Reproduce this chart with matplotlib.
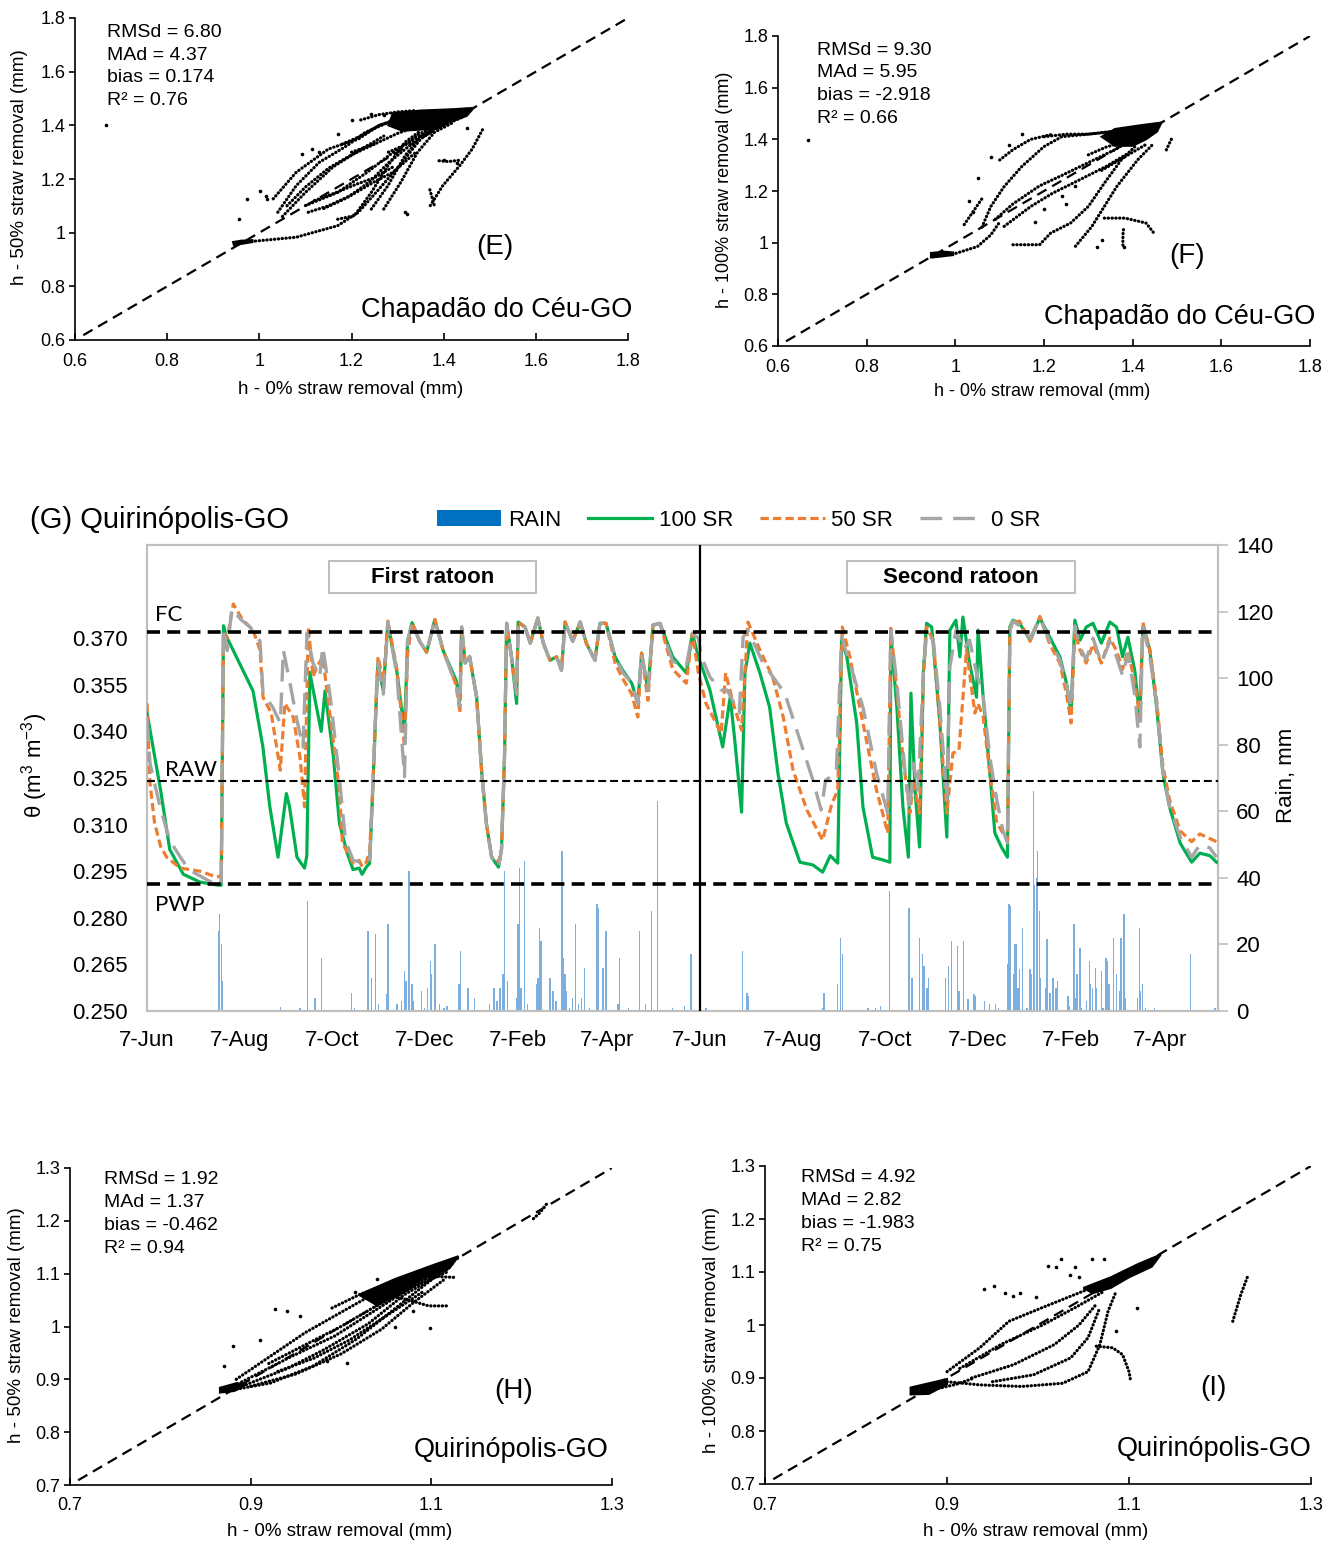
import matplotlib
matplotlib.use('Agg')
import matplotlib.pyplot as plt
import matplotlib.dates as mdates
from matplotlib.lines import Line2D
from matplotlib.patches import Patch, Rectangle, Polygon
import numpy as np
import pandas as pd

plt.rcParams['font.family'] = ['Liberation Sans', 'DejaVu Sans']
plt.rcParams['mathtext.fontset'] = 'custom'
plt.rcParams['mathtext.rm'] = 'Liberation Sans'
plt.rcParams['mathtext.it'] = 'Liberation Sans:italic'

# ---------------------------------------------------------------- data: panel G
start_date = '2017-06-07'
end_day = 707
tick_dates = ['2017-06-07', '2017-08-07', '2017-10-07', '2017-12-07', '2018-02-07', '2018-04-07',
              '2018-06-07', '2018-08-07', '2018-10-07', '2018-12-07', '2019-02-07', '2019-04-07']
tick_labels = ['7-Jun', '7-Aug', '7-Oct', '7-Dec', '7-Feb', '7-Apr',
               '7-Jun', '7-Aug', '7-Oct', '7-Dec', '7-Feb', '7-Apr']
ratoon_split = '2018-06-07'
FC, RAW, PWP = 0.372, 0.324, 0.291

sr100_day = [0, 9, 15, 24, 35, 47, 49, 50.5, 52, 61, 70, 76.5, 81, 86.5, 92, 94, 99, 104, 105.5, 107.5,
             111, 115, 117.5, 123, 127, 132, 136, 140, 142, 145, 147, 149, 151.6, 152.5, 156, 159, 165,
             170, 172, 175, 180, 184.6, 190, 195.5, 204, 206.6, 207.7, 210, 213, 217.6, 221, 224, 227.5,
             232, 234, 236, 237.4, 240.6, 244, 245, 249.5, 253, 258, 261.6, 266, 270.4, 273.6, 276, 281,
             286, 290, 295.7, 299, 303, 309, 314, 320, 324, 326.5, 330.7, 334, 338.6, 347, 356, 360, 364,
             371.6, 380, 385, 388, 392.5, 394.7, 398, 404.6, 411, 416.5, 422, 431, 439.6, 446, 451, 456,
             458.5, 462, 468.5, 472.6, 479, 486, 490.4, 491, 495, 499, 502.6, 504.3, 507, 510, 512.5,
             514.6, 518, 523.4, 528, 530, 534, 536.6, 538.6, 543, 547.6, 548.6, 552, 556.4, 559.7, 564,
             568, 569.6, 571.6, 576, 583, 589.4, 596, 602.6, 607, 610, 612.5, 616, 620, 624.5, 630,
             635.6, 640, 644, 647.5, 652, 655.4, 657.4, 662, 666.5, 670.6, 675, 682, 689.6, 695, 701.6, 706]
sr100_theta = [0.346, 0.321, 0.302, 0.294, 0.2915, 0.2905, 0.2905, 0.374, 0.371, 0.362, 0.353, 0.335,
               0.316, 0.2995, 0.320, 0.316, 0.2995, 0.296, 0.300, 0.359, 0.350, 0.340, 0.353, 0.332,
               0.3105, 0.301, 0.2955, 0.296, 0.294, 0.2965, 0.2975, 0.321, 0.353, 0.362, 0.353, 0.375,
               0.359, 0.340, 0.369, 0.375, 0.369, 0.3655, 0.376, 0.366, 0.3565, 0.350, 0.3736, 0.362,
               0.364, 0.351, 0.3266, 0.3105, 0.2995, 0.2963, 0.3018, 0.3317, 0.3748, 0.364, 0.349,
               0.3752, 0.3736, 0.3684, 0.3765, 0.3684, 0.3629, 0.364, 0.3597, 0.3752, 0.369, 0.3752,
               0.3684, 0.3629, 0.3748, 0.3748, 0.364, 0.3597, 0.3555, 0.349, 0.3652, 0.3533, 0.3742,
               0.3748, 0.364, 0.3588, 0.3716, 0.364, 0.3533, 0.335, 0.351, 0.3372, 0.314, 0.3588,
               0.3684, 0.3588, 0.3478, 0.3266, 0.3105, 0.2979, 0.297, 0.2947, 0.300, 0.2976, 0.3694,
               0.364, 0.3427, 0.3157, 0.2995, 0.2986, 0.2979, 0.3716, 0.3478, 0.3157, 0.2995, 0.3523,
               0.3211, 0.3028, 0.3588, 0.3748, 0.3736, 0.3427, 0.306, 0.3726, 0.3758, 0.364, 0.3768,
               0.362, 0.351, 0.3726, 0.351, 0.3266, 0.3073, 0.3028, 0.2995, 0.3736, 0.3758, 0.3748,
               0.3694, 0.3765, 0.3703, 0.364, 0.3555, 0.3459, 0.3758, 0.3694, 0.3736, 0.3748, 0.3684,
               0.3752, 0.3736, 0.364, 0.3703, 0.3597, 0.3446, 0.3736, 0.3662, 0.3478, 0.3266, 0.3157,
               0.3041, 0.2979, 0.3008, 0.300, 0.2979]

sr50_day = [0, 2, 5, 9, 13, 22, 35, 46, 49, 50.5, 53, 57, 63, 70, 74.6, 76.6, 82, 88, 91, 96.5, 101, 104,
            106.5, 109.6, 112, 116, 121, 127, 129, 136, 140, 142, 145, 147, 149, 151.6, 152.5, 156, 159,
            165, 170, 172, 175, 180, 184.6, 190, 195.5, 204, 206.6, 207.7, 210, 213, 217.6, 221, 224,
            227.5, 232, 234, 236, 237.4, 240.6, 244, 245, 249.5, 253, 258, 261.6, 266, 270.4, 273.6, 276,
            281, 286, 290, 295.7, 299, 303, 309, 314, 320, 324, 326.5, 330.7, 334, 338.6, 347, 356, 360,
            364, 369, 379, 382, 387, 392.5, 396.7, 404.6, 413, 420, 426.5, 435.6, 446, 452, 456, 459,
            464, 472.6, 481.6, 489, 491, 495, 499, 503.6, 506, 510, 512.5, 514.6, 519, 523.4, 528, 532,
            536, 539, 541, 543, 546.5, 548.6, 552, 556.4, 561, 565, 568, 569.6, 571.6, 576, 583, 589.4,
            596, 602.6, 607, 610, 612.5, 616, 620, 624.5, 630, 635.6, 640, 644, 647.5, 652, 655.4, 657.4,
            662, 666.5, 670.6, 675, 682, 689.6, 695, 701.6, 706]
sr50_theta = [0.349, 0.3233, 0.3105, 0.303, 0.2995, 0.296, 0.295, 0.2931, 0.2935, 0.372, 0.370, 0.381,
              0.376, 0.3726, 0.3662, 0.351, 0.3459, 0.3275, 0.349, 0.3446, 0.3317, 0.3157, 0.3736,
              0.3575, 0.3607, 0.364, 0.3446, 0.3211, 0.3041, 0.2976, 0.2985, 0.2965, 0.298, 0.3018,
              0.321, 0.355, 0.364, 0.356, 0.3755, 0.360, 0.335, 0.365, 0.375, 0.369, 0.3655, 0.376,
              0.366, 0.355, 0.346, 0.3736, 0.362, 0.364, 0.351, 0.3266, 0.3105, 0.2995, 0.298, 0.3018,
              0.3317, 0.3748, 0.364, 0.352, 0.3752, 0.3736, 0.3684, 0.3765, 0.3684, 0.3629, 0.364,
              0.3597, 0.3752, 0.369, 0.3752, 0.3684, 0.3629, 0.3748, 0.3748, 0.362, 0.357, 0.352,
              0.3446, 0.3652, 0.350, 0.3742, 0.3748, 0.360, 0.3555, 0.3716, 0.3588, 0.349, 0.3394,
              0.3588, 0.349, 0.3404, 0.3752, 0.3662, 0.3575, 0.3446, 0.3275, 0.3147, 0.305, 0.3166,
              0.3211, 0.3736, 0.364, 0.3427, 0.3211, 0.3073, 0.3732, 0.3533, 0.3317, 0.3137, 0.324,
              0.3137, 0.3575, 0.3736, 0.3694, 0.3427, 0.3137, 0.333, 0.334, 0.3533, 0.3662, 0.3588,
              0.3459, 0.349, 0.3446, 0.3266, 0.3105, 0.3073, 0.305, 0.3726, 0.375, 0.3755, 0.369,
              0.377, 0.368, 0.362, 0.352, 0.3427, 0.372, 0.366, 0.362, 0.368, 0.362, 0.370, 0.366,
              0.360, 0.366, 0.356, 0.3446, 0.3752, 0.3662, 0.350, 0.329, 0.318, 0.308, 0.3045, 0.307,
              0.3055, 0.3045]

sr0_day = [0, 2, 8.6, 15, 22, 28, 40, 47, 49, 50.5, 53, 56, 62, 68, 74.6, 76.6, 83, 88, 90, 94, 99, 103,
           105.6, 109.6, 114, 116, 121, 127, 131, 136, 140, 145, 147, 149, 151.6, 152.5, 156, 159, 165,
           170, 172, 175, 180, 184.6, 190, 195.5, 204, 206.6, 207.7, 210, 213, 217.6, 221, 224, 227.5,
           232, 234, 236, 237.4, 240.6, 244, 245, 249.5, 253, 258, 261.6, 266, 270.4, 273.6, 276, 281,
           286, 290, 295.7, 299, 303, 309, 314, 320, 324, 326.5, 330.7, 334, 338.6, 347, 356, 360, 364,
           366, 371.6, 379, 383, 391, 393.5, 396.7, 406.6, 421, 431, 439.6, 445, 448, 455, 458.5, 464,
           472.6, 481.6, 489, 491, 495, 500.5, 503.6, 506, 509, 512.5, 514.6, 519, 523.4, 528, 530, 534,
           539, 543, 547.6, 552, 556.4, 561, 565, 568, 569.6, 571.6, 576, 583, 589.4, 596, 602.6, 607,
           610, 612.5, 616, 620, 624.5, 630, 635.6, 640, 644, 647.5, 652, 655.4, 657.4, 662, 666.5,
           670.6, 675, 682, 689.6, 695, 701.6, 706]
sr0_theta = [0.344, 0.3297, 0.3157, 0.305, 0.2995, 0.2954, 0.2921, 0.2905, 0.291, 0.373, 0.366, 0.3795,
             0.376, 0.3736, 0.369, 0.3523, 0.3478, 0.3427, 0.3662, 0.3565, 0.3436, 0.3349, 0.3716,
             0.362, 0.3575, 0.3673, 0.351, 0.325, 0.305, 0.2985, 0.298, 0.2975, 0.2985, 0.322, 0.353,
             0.362, 0.352, 0.3752, 0.358, 0.3254, 0.369, 0.3752, 0.369, 0.3655, 0.376, 0.366, 0.355,
             0.348, 0.3736, 0.362, 0.364, 0.351, 0.3266, 0.3105, 0.2995, 0.2963, 0.3018, 0.3317,
             0.3748, 0.364, 0.352, 0.3752, 0.3736, 0.3684, 0.3765, 0.3684, 0.3629, 0.364, 0.3597,
             0.3752, 0.369, 0.3752, 0.3684, 0.3629, 0.3748, 0.3748, 0.364, 0.359, 0.3555, 0.349,
             0.3652, 0.3533, 0.3742, 0.3748, 0.3625, 0.361, 0.3716, 0.370, 0.364, 0.3575, 0.3533,
             0.3533, 0.3459, 0.3703, 0.3726, 0.362, 0.3523, 0.3372, 0.3243, 0.3147, 0.3243, 0.3266,
             0.3703, 0.362, 0.3478, 0.3266, 0.3137, 0.3726, 0.3555, 0.3266, 0.3147, 0.3297, 0.3211,
             0.3588, 0.3716, 0.3694, 0.3478, 0.3179, 0.3607, 0.3726, 0.3662, 0.3694, 0.3588, 0.351,
             0.3317, 0.3179, 0.3082, 0.3041, 0.3726, 0.3755, 0.374, 0.370, 0.3765, 0.369, 0.363,
             0.355, 0.3478, 0.374, 0.367, 0.363, 0.370, 0.362, 0.369, 0.364, 0.358, 0.365, 0.352,
             0.335, 0.3742, 0.364, 0.349, 0.327, 0.316, 0.306, 0.2995, 0.3035, 0.3025, 0.2995]

rain_day = [47, 48, 49, 50, 88, 101, 106, 111, 115, 135, 137, 146, 148, 151, 153, 158, 159, 165, 168, 170,
            171, 173, 175, 176, 181, 183, 185, 187, 188, 190, 193, 196, 198, 206, 207, 212, 216, 226, 229,
            231, 233, 235, 236, 238, 244, 245, 246, 247, 249, 251, 257, 258, 259, 260, 266, 268, 270, 274,
            275, 276, 277, 279, 281, 283, 285, 287, 289, 292, 297, 298, 301, 303, 311, 312, 318, 325, 329,
            333, 337, 347, 355, 359, 369, 393, 396, 397, 446, 447, 456, 458, 459, 476, 481, 484, 490, 503,
            505, 510, 512, 513, 515, 516, 527, 529, 531, 535, 536, 539, 542, 546, 547, 553, 556, 560, 562,
            568, 569, 570, 572, 573, 574, 575, 576, 578, 581, 583, 584, 585, 586, 587, 588, 589, 590, 593,
            594, 596, 598, 600, 601, 608, 609, 612, 613, 614, 616, 617, 620, 622, 623, 624, 626, 627, 630,
            631, 633, 634, 635, 638, 640, 642, 643, 645, 646, 654, 655, 656, 657, 659, 665, 689, 705, 707]
rain_mm = [24, 29, 20, 9, 1.2, 1, 33, 4, 16, 5.4, 1, 24, 10, 23, 2, 5, 26, 2, 3, 12, 9, 42, 8, 3, 6, 1, 7,
           15, 11, 20, 2, 1, 1.5, 8, 18, 7, 4, 2, 7, 3, 7, 11, 42, 9, 4, 26, 43, 7, 45, 2, 8, 10, 25, 21,
           10, 6, 3, 48, 16, 11, 6, 1, 4, 26, 2, 4, 13, 1, 32, 31, 13, 24, 2, 16, 1, 24, 2, 30, 63, 1,
           1.5, 17, 1, 18, 5.5, 4.5, 1, 5.5, 8, 22, 17, 1, 1, 1.5, 36, 31, 10, 22, 17, 13.5, 7, 10, 10,
           13.5, 21, 19.5, 6, 21, 3.6, 5, 4.6, 3, 2, 2, 1, 14, 32, 31.5, 11, 20, 20, 7, 12.6, 25, 1,
           12.6, 11, 66, 38, 40, 48, 30, 10, 7, 21.5, 5.5, 10, 7, 9, 4.6, 1.5, 26, 4, 11, 19, 1, 3, 15,
           8, 7, 13, 7, 12, 1, 16, 15, 8, 22, 11, 6, 22, 29, 4, 4, 25, 6, 8, 1, 1, 17, 1, 1.5]

# ---------------------------------------------------------------- data: scatter panels
E_stats = ['RMSd = 6.80', 'MAd = 4.37', 'bias = 0.174', 'R² = 0.76']
F_stats = ['RMSd = 9.30', 'MAd = 5.95', 'bias = -2.918', 'R² = 0.66']
H_stats = ['RMSd = 1.92', 'MAd = 1.37', 'bias = -0.462', 'R² = 0.94']
I_stats = ['RMSd = 4.92', 'MAd = 2.82', 'bias = -1.983', 'R² = 0.75']
EF_ticks = [0.6, 0.8, 1.0, 1.2, 1.4, 1.6, 1.8]
EF_ticklabels = ['0.6', '0.8', '1', '1.2', '1.4', '1.6', '1.8']
HI_xticks = [0.7, 0.9, 1.1, 1.3]
HI_xticklabels = ['0.7', '0.9', '1.1', '1.3']
HI_yticks = [0.7, 0.8, 0.9, 1.0, 1.1, 1.2, 1.3]
HI_yticklabels = ['0.7', '0.8', '0.9', '1', '1.1', '1.2', '1.3']

E_curves = [
    ([0.95, 1.0, 1.08, 1.17, 1.215, 1.26, 1.31, 1.35, 1.40, 1.445],
     [0.962, 0.970, 0.983, 1.026, 1.076, 1.163, 1.262, 1.349, 1.411, 1.442]),
    ([1.04, 1.08, 1.13, 1.19, 1.23, 1.28, 1.32], [1.076, 1.175, 1.262, 1.324, 1.374, 1.411, 1.43]),
    ([1.03, 1.08, 1.15, 1.215, 1.26, 1.31], [1.126, 1.225, 1.312, 1.349, 1.40, 1.43]),
    ([1.05, 1.10, 1.16, 1.22, 1.27], [1.06, 1.15, 1.245, 1.31, 1.36]),
    ([1.10, 1.17, 1.234, 1.29, 1.35, 1.40], [1.101, 1.150, 1.225, 1.299, 1.37, 1.41]),
    ([1.106, 1.15, 1.20, 1.25, 1.29, 1.34], [1.076, 1.10, 1.14, 1.19, 1.225, 1.30]),
    ([1.12, 1.16, 1.21, 1.25, 1.29], [1.12, 1.145, 1.18, 1.205, 1.245]),
    ([1.17, 1.206, 1.243, 1.279, 1.316, 1.35], [1.05, 1.063, 1.150, 1.250, 1.337, 1.38]),
    ([1.243, 1.279, 1.316, 1.352, 1.39], [1.088, 1.175, 1.287, 1.361, 1.40]),
    ([1.27, 1.307, 1.343, 1.38, 1.42], [1.088, 1.188, 1.299, 1.374, 1.41]),
    ([1.371, 1.398, 1.435, 1.462, 1.485], [1.101, 1.175, 1.250, 1.312, 1.386]),
    ([1.37, 1.375, 1.38], [1.16, 1.13, 1.10]),
    ([1.39, 1.41, 1.435], [1.268, 1.265, 1.27]),
    ([1.18, 1.22, 1.26, 1.30, 1.35, 1.40, 1.45], [1.33, 1.36, 1.40, 1.42, 1.44, 1.45, 1.46]),
    ([1.20, 1.25, 1.30, 1.35, 1.40, 1.45], [1.30, 1.33, 1.37, 1.40, 1.42, 1.44]),
    ([1.28, 1.32, 1.36, 1.40, 1.44], [1.30, 1.33, 1.37, 1.40, 1.43]),
    ([1.22, 1.26, 1.30, 1.34], [1.42, 1.44, 1.45, 1.455]),
    ([1.06, 1.10, 1.15, 1.20, 1.25], [1.10, 1.17, 1.24, 1.29, 1.33]),
    ([1.14, 1.19, 1.24, 1.28, 1.33], [1.09, 1.13, 1.19, 1.26, 1.33]),
]
E_pts_x = [0.668, 0.955, 0.973, 1.001, 1.015, 1.016, 1.092, 1.115, 1.17, 1.243, 1.316, 1.32, 1.27, 1.20,
           1.13, 1.45, 1.40, 1.43]
E_pts_y = [1.401, 1.05, 1.126, 1.157, 1.138, 1.125, 1.293, 1.312, 1.368, 1.442, 1.076, 1.07, 1.44, 1.42,
           1.30, 1.39, 1.27, 1.26]
E_blobs = [
    [(1.28, 1.40), (1.29, 1.445), (1.35, 1.455), (1.42, 1.46), (1.465, 1.465), (1.45, 1.435),
     (1.41, 1.41), (1.36, 1.385), (1.31, 1.38)],
    [(0.945, 0.953), (0.943, 0.965), (0.96, 0.97), (0.985, 0.972), (0.985, 0.965), (0.96, 0.958)],
]

F_curves = [
    ([0.95, 1.0, 1.05, 1.08, 1.10], [0.945, 0.958, 0.985, 1.03, 1.08]),
    ([1.06, 1.08, 1.11, 1.15, 1.20, 1.24, 1.30, 1.36], [1.06, 1.14, 1.217, 1.295, 1.372, 1.41, 1.42, 1.43]),
    ([1.09, 1.13, 1.19, 1.24, 1.30, 1.36, 1.41, 1.46], [1.09, 1.15, 1.22, 1.26, 1.31, 1.36, 1.41, 1.45]),
    ([1.11, 1.17, 1.22, 1.28, 1.34, 1.39], [1.063, 1.14, 1.192, 1.243, 1.295, 1.346]),
    ([1.13, 1.19, 1.215, 1.26, 1.30, 1.336, 1.374, 1.41], [0.992, 0.992, 1.037, 1.076, 1.14, 1.23, 1.32, 1.38]),
    ([1.271, 1.308, 1.336, 1.364, 1.411, 1.448], [0.986, 1.063, 1.14, 1.217, 1.32, 1.385]),
    ([1.336, 1.383, 1.43, 1.448], [1.095, 1.095, 1.076, 1.037]),
    ([1.378, 1.378, 1.38], [0.99, 1.03, 1.06]),
    ([1.476, 1.483, 1.49], [1.359, 1.385, 1.41]),
    ([1.10, 1.13, 1.17, 1.22], [1.32, 1.36, 1.40, 1.42]),
    ([1.02, 1.04, 1.06], [1.07, 1.12, 1.17]),
    ([1.20, 1.25, 1.30, 1.35, 1.40, 1.45], [1.41, 1.42, 1.42, 1.43, 1.44, 1.45]),
    ([1.30, 1.34, 1.38, 1.42, 1.45], [1.34, 1.37, 1.39, 1.41, 1.43]),
    ([1.33, 1.36, 1.40, 1.43], [1.28, 1.31, 1.35, 1.38]),
]
F_pts_x = [0.667, 1.15, 1.12, 1.08, 1.05, 1.03, 1.04, 1.32, 1.33, 1.38, 1.27, 1.24, 1.25, 1.20, 1.18]
F_pts_y = [1.397, 1.42, 1.38, 1.33, 1.25, 1.16, 1.12, 0.985, 1.01, 0.985, 1.22, 1.18, 1.15, 1.13, 1.08]
F_blobs = [
    [(1.33, 1.41), (1.36, 1.44), (1.42, 1.455), (1.465, 1.465), (1.455, 1.43), (1.43, 1.40),
     (1.40, 1.375), (1.36, 1.375)],
    [(0.945, 0.943), (0.945, 0.96), (0.975, 0.965), (0.995, 0.962), (0.995, 0.952), (0.97, 0.947)],
]

H_curves = [
    ([0.88, 0.922, 0.969, 1.017, 1.054, 1.087, 1.125], [0.88, 0.893, 0.925, 0.976, 1.026, 1.071, 1.121]),
    ([0.884, 0.922, 0.96, 0.993, 1.026, 1.064, 1.111, 1.13], [0.9, 0.944, 0.988, 1.02, 1.052, 1.077, 1.109, 1.13]),
    ([0.89, 0.946, 0.993, 1.04, 1.087, 1.12], [0.895, 0.944, 0.982, 1.033, 1.084, 1.11]),
    ([0.895, 0.94, 0.98, 1.03, 1.07, 1.11], [0.89, 0.92, 0.955, 1.005, 1.06, 1.1]),
    ([0.90, 0.95, 1.00, 1.045, 1.08, 1.115], [0.887, 0.91, 0.948, 0.995, 1.045, 1.09]),
    ([0.99, 1.02, 1.05, 1.08, 1.11], [1.035, 1.06, 1.08, 1.10, 1.12]),
    ([0.92, 0.96, 1.0, 1.04, 1.08, 1.12], [0.93, 0.965, 1.0, 1.04, 1.075, 1.105]),
    ([0.93, 0.97, 1.01, 1.05, 1.09], [0.915, 0.94, 0.975, 1.02, 1.065]),
    ([1.054, 1.087, 1.125], [1.077, 1.096, 1.093]),
    ([1.05, 1.075, 1.097, 1.12], [1.06, 1.05, 1.039, 1.039]),
    ([1.213, 1.22, 1.229], [1.204, 1.215, 1.235]),
]
H_pts_x = [0.88, 0.87, 0.91, 0.927, 0.94, 0.955, 1.015, 1.007, 1.099, 1.04, 0.985, 1.06, 1.08]
H_pts_y = [0.963, 0.925, 0.975, 1.033, 1.03, 1.02, 1.065, 0.931, 0.998, 1.09, 0.935, 1.0, 1.03]
H_blobs = [
    [(1.02, 1.06), (1.06, 1.09), (1.10, 1.115), (1.13, 1.133), (1.12, 1.11), (1.09, 1.09),
     (1.06, 1.06), (1.04, 1.04)],
    [(0.866, 0.875), (0.866, 0.884), (0.885, 0.893), (0.895, 0.89), (0.882, 0.878)],
]

I_curves = [
    ([0.90, 0.936, 0.982, 1.027, 1.055, 1.068, 1.077, 1.086], [0.893, 0.887, 0.884, 0.89, 0.912, 0.963, 1.026, 1.064]),
    ([0.90, 0.936, 0.968, 1.005, 1.05, 1.095, 1.132], [0.912, 0.957, 1.007, 1.033, 1.064, 1.096, 1.128]),
    ([0.914, 0.959, 1.005, 1.041, 1.073], [0.918, 0.963, 1.0, 1.033, 1.064]),
    ([0.927, 0.973, 1.018, 1.045, 1.064], [0.90, 0.925, 0.963, 1.0, 1.039]),
    ([0.95, 0.995, 1.036, 1.055, 1.068], [0.893, 0.906, 0.938, 0.976, 1.033]),
    ([1.064, 1.082, 1.093, 1.10, 1.102], [0.96, 0.957, 0.944, 0.912, 0.893]),
    ([1.214, 1.223, 1.23], [1.007, 1.058, 1.09]),
    ([0.87, 0.89, 0.91, 0.93], [0.872, 0.88, 0.888, 0.90]),
]
I_pts_x = [0.941, 0.952, 0.964, 0.972, 0.998, 1.011, 1.025, 1.041, 1.059, 1.073, 1.086, 1.109, 1.02,
           1.035, 1.045, 0.98]
I_pts_y = [1.067, 1.074, 1.061, 1.055, 1.052, 1.112, 1.124, 1.109, 1.124, 1.124, 0.988, 1.033, 1.11,
           1.095, 1.09, 1.06]
I_blobs = [
    [(1.05, 1.07), (1.08, 1.09), (1.11, 1.115), (1.135, 1.133), (1.125, 1.11), (1.10, 1.09),
     (1.08, 1.07), (1.06, 1.06)],
    [(0.86, 0.869), (0.86, 0.882), (0.88, 0.89), (0.9, 0.898), (0.9, 0.888), (0.88, 0.87)],
]

# ---------------------------------------------------------------- figure
W, H = 1338, 1543
fig = plt.figure(figsize=(W / 100, H / 100), dpi=100)
fig.patch.set_facecolor('white')


def px_rect(x0, y0, x1, y1):
    return [x0 / W, 1 - y1 / H, (x1 - x0) / W, (y1 - y0) / H]


def scatter_panel(rect, lim, xt, xtl, yt, ytl, xlabel, ylabel, stats, site, tag, curves, ptsx, ptsy,
                  blobs, stats_xy, site_xy, tag_xy, ylab_xy, xlab_xy, fs_lab=13.5):
    ax = fig.add_axes(rect)
    ax.set_xlim(lim)
    ax.set_ylim(lim)
    for s in ['top', 'right']:
        ax.spines[s].set_visible(False)
    for s in ['left', 'bottom']:
        ax.spines[s].set_linewidth(1.2)
    ax.set_xticks(xt)
    ax.set_xticklabels(xtl)
    ax.set_yticks(yt)
    ax.set_yticklabels(ytl)
    ax.tick_params(axis='x', direction='in', length=5, width=1.2, labelsize=13, pad=9)
    ax.tick_params(axis='y', direction='out', length=4, width=1.2, labelsize=13, pad=3)
    d0 = lim[0] + 0.015 * (lim[1] - lim[0])
    ax.plot([d0, lim[1]], [d0, lim[1]], color='black', lw=1.6, dashes=(4.8, 2.9), zorder=1)
    for poly in blobs:
        ax.add_patch(Polygon(poly, closed=True, facecolor='black', edgecolor='black', lw=1.5, zorder=3))
    for cx, cy in curves:
        ax.plot(cx, cy, color='black', lw=2.3, linestyle=(0, (0.1, 1.1)), dash_capstyle='round', zorder=3)
    ax.plot(ptsx, ptsy, 'o', color='black', ms=2.6, mew=0, zorder=3)
    ax.text(stats_xy[0], stats_xy[1], '\n'.join(stats), transform=ax.transAxes, ha='left', va='top',
            fontsize=14, linespacing=1.45)
    ax.text(site_xy[0], site_xy[1], site, transform=ax.transAxes, ha='right', va='center', fontsize=19.5)
    ax.text(tag_xy[0], tag_xy[1], tag, transform=ax.transAxes, ha='center', va='center', fontsize=20)
    ax.set_ylabel(ylabel, fontsize=fs_lab)
    ax.set_xlabel(xlabel, fontsize=fs_lab)
    ax.yaxis.set_label_coords(*ylab_xy)
    ax.xaxis.set_label_coords(*xlab_xy)
    return ax


xlab = 'h - 0% straw removal (mm)'
scatter_panel(px_rect(75, 18, 628, 340), (0.6, 1.8), EF_ticks, EF_ticklabels, EF_ticks, EF_ticklabels,
              xlab, 'h - 50% straw removal (mm)', E_stats, 'Chapadão do Céu-GO', '(E)',
              E_curves, E_pts_x, E_pts_y, E_blobs, (0.058, 0.982), (1.007, 0.093), (0.759, 0.289),
              (-0.085, 0.537), (0.499, -0.127))
scatter_panel(px_rect(778, 36, 1310, 346), (0.6, 1.8), EF_ticks, EF_ticklabels, EF_ticks, EF_ticklabels,
              xlab, 'h - 100% straw removal (mm)', F_stats, 'Chapadão do Céu-GO', '(F)',
              F_curves, F_pts_x, F_pts_y, F_blobs, (0.073, 0.982), (1.009, 0.094), (0.769, 0.29),
              (-0.085, 0.503), (0.496, -0.119), fs_lab=13)
scatter_panel(px_rect(70, 1168, 612, 1485), (0.7, 1.3), HI_xticks, HI_xticklabels, HI_yticks, HI_yticklabels,
              xlab, 'h - 50% straw removal (mm)', H_stats, 'Quirinópolis-GO', '(H)',
              H_curves, H_pts_x, H_pts_y, H_blobs, (0.063, 0.99), (0.993, 0.11), (0.819, 0.297),
              (-0.083, 0.505), (0.498, -0.12))
scatter_panel(px_rect(765, 1166, 1311, 1484), (0.7, 1.3), HI_xticks, HI_xticklabels, HI_yticks, HI_yticklabels,
              xlab, 'h - 100% straw removal (mm)', I_stats, 'Quirinópolis-GO', '(I)',
              I_curves, I_pts_x, I_pts_y, I_blobs, (0.066, 0.99), (1.0, 0.11), (0.822, 0.302),
              (-0.082, 0.484), (0.496, -0.123))

# ---------------------------------------------------------------- panel G
t0 = mdates.date2num(pd.Timestamp(start_date))
ax = fig.add_axes(px_rect(147, 545, 1218, 1011))
ax2 = ax.twinx()
ax.set_zorder(ax2.get_zorder() + 1)
ax.patch.set_visible(False)

ax2.bar(t0 + np.array(rain_day), rain_mm, width=0.9, color='#5B9BD5', alpha=0.8, linewidth=0)
ax2.set_ylim(0, 140)
ax2.set_yticks([0, 20, 40, 60, 80, 100, 120, 140])
ax2.tick_params(axis='y', direction='out', length=7, width=1.2, color='#BFBFBF', labelsize=16, pad=6)
ax2.set_ylabel('Rain, mm', fontsize=16)
ax2.yaxis.set_label_coords(1.054, 0.506)

ax.plot(t0 + np.array(sr100_day), sr100_theta, color='#00B050', lw=2.3, zorder=3)
ax.plot(t0 + np.array(sr50_day), sr50_theta, color='#ED7D31', lw=2.3, dashes=(2.6, 1.3), zorder=4)
ax.plot(t0 + np.array(sr0_day), sr0_theta, color='#A5A5A5', lw=2.4, dashes=(6.5, 3.3), zorder=5)

ax.axhline(FC, color='black', lw=2.6, dashes=(3.6, 2.0), zorder=6)
ax.axhline(RAW, color='black', lw=1.5, dashes=(3.8, 1.9), zorder=6)
ax.axhline(PWP, color='black', lw=2.6, dashes=(3.6, 2.0), zorder=6)
ax.axvline(mdates.date2num(pd.Timestamp(ratoon_split)), color='black', lw=1.6, zorder=6)

ax.set_xlim(t0, t0 + end_day)
ax.set_ylim(0.25, 0.40)
ax.set_yticks([0.250, 0.265, 0.280, 0.295, 0.310, 0.325, 0.340, 0.355, 0.370])
ax.set_yticklabels(['0.250', '0.265', '0.280', '0.295', '0.310', '0.325', '0.340', '0.355', '0.370'])
ax.set_xticks([mdates.date2num(pd.Timestamp(d)) for d in tick_dates])
ax.set_xticklabels(tick_labels)
ax.tick_params(axis='y', length=0, labelsize=16, pad=14)
ax.tick_params(axis='x', length=0, labelsize=16, pad=14)
ax.set_ylabel('θ (m$^{3}$ m$^{-3}$)', fontsize=16)
ax.yaxis.set_label_coords(-0.0906, 0.528)
for a in (ax, ax2):
    for s in a.spines.values():
        s.set_color('#BFBFBF')
        s.set_linewidth(1.5)

calib = ['Lato', 'DejaVu Sans']
ax.text(0.0075, 0.3774, 'FC', fontsize=16, family=calib, ha='left', va='center',
        transform=ax.get_yaxis_transform())
ax.text(0.0168, 0.3275, 'RAW', fontsize=16, family=calib, ha='left', va='center',
        transform=ax.get_yaxis_transform())
ax.text(0.0075, 0.2841, 'PWP', fontsize=16, family=calib, ha='left', va='center',
        transform=ax.get_yaxis_transform())

for (x0, x1), label in [((0.170, 0.3632), 'First ratoon'), ((0.6536, 0.8665), 'Second ratoon')]:
    ax.add_patch(Rectangle((x0, 0.897), x1 - x0, 0.0687, transform=ax.transAxes, facecolor='white',
                           edgecolor='#BFBFBF', lw=1.5, zorder=7))
    ax.text((x0 + x1) / 2, 0.931, label, transform=ax.transAxes, ha='center', va='center',
            fontsize=16, fontweight='bold', zorder=8)

fig.text(30 / W, 1 - 520 / H, '(G) Quirinópolis-GO', fontsize=21, ha='left', va='center')
handles = [Patch(facecolor='#0070C0', edgecolor='none'),
           Line2D([], [], color='#00B050', lw=2.3),
           Line2D([], [], color='#ED7D31', lw=2.3, dashes=(2.6, 1.3)),
           Line2D([], [], color='#A5A5A5', lw=2.4, dashes=(6.5, 3.3))]
fig.legend(handles, ['RAIN', '100 SR', '50 SR', '0 SR'], loc='center left',
           bbox_to_anchor=(437 / W, 1 - 520 / H), ncol=4, frameon=False, fontsize=16,
           handlelength=2.9, handleheight=0.7, handletextpad=0.3, columnspacing=1.2,
           borderaxespad=0, borderpad=0)

fig.savefig('out.png', dpi=100, facecolor='white')
